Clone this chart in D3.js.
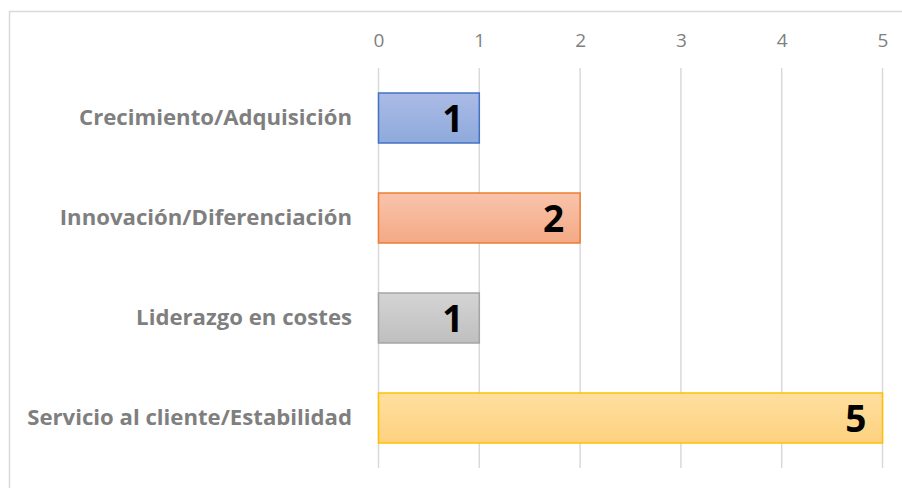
<!DOCTYPE html>
<html>
<head>
<meta charset="utf-8">
<script src="https://cdn.jsdelivr.net/npm/d3@7"></script>
<style>
  body { margin: 0; background: #fff; }
  svg { display: block; }
</style>
</head>
<body>
<svg id="chart"></svg>
<script>
// Data
const categories = ['Crecimiento/Adquisición', 'Innovación/Diferenciación', 'Liderazgo en costes', 'Servicio al cliente/Estabilidad'];
const values = [1, 2, 1, 5];
const tickValues = [0, 1, 2, 3, 4, 5];

// colores tipo Excel: borde + degradado
const strokeColors = ['#4472c4', '#ed7d31', '#a5a5a5', '#ffc000'];
const gradTop = ['#abbbe6', '#f9c4ab', '#d4d4d4', '#ffdf9f'];
const gradBottom = ['#8eaadb', '#f4a985', '#bfbfbf', '#fdd17f'];

const width = 902, height = 488;

const svg = d3.select('#chart')
    .attr('width', width)
    .attr('height', height);

const defs = svg.append('defs');
categories.forEach((c, i) => {
    const g = defs.append('linearGradient')
        .attr('id', 'grad' + i)
        .attr('x1', 0).attr('y1', 0).attr('x2', 0).attr('y2', 1);
    g.append('stop').attr('offset', '0%').attr('stop-color', gradTop[i]);
    g.append('stop').attr('offset', '100%').attr('stop-color', gradBottom[i]);
});

// marco del gráfico
svg.append('rect')
    .attr('x', 9.5).attr('y', 11.5)
    .attr('width', 1000).attr('height', 1000)
    .attr('fill', 'none')
    .attr('stroke', '#d9d9d9')
    .attr('stroke-width', 1.5);

const x = d3.scaleLinear().domain([0, 5]).range([378.5, 882.5]);
const y = d3.scaleBand()
    .domain(categories)
    .range([68, 468])
    .paddingInner(0.5)
    .paddingOuter(0.25);

// gridlines
svg.append('g')
    .selectAll('line')
    .data(tickValues)
    .enter()
    .append('line')
    .attr('x1', d => x(d)).attr('x2', d => x(d))
    .attr('y1', 68).attr('y2', 468)
    .attr('stroke', '#d9d9d9')
    .attr('stroke-width', 1.5);

// eje superior
const axis = svg.append('g')
    .attr('transform', 'translate(0,47)')
    .call(d3.axisTop(x).tickValues(tickValues).tickSize(0).tickPadding(0).tickFormat(d3.format('d')));
axis.select('.domain').remove();
axis.selectAll('text')
    .attr('dy', 0)
    .style('font-family', 'Open Sans, sans-serif')
    .style('font-size', '19px')
    .attr('fill', '#7f7f7f');

// barras
svg.append('g')
    .selectAll('rect')
    .data(values)
    .enter()
    .append('rect')
    .attr('x', x(0))
    .attr('y', (d, i) => y(categories[i]))
    .attr('width', d => x(d) - x(0))
    .attr('height', y.bandwidth())
    .attr('fill', (d, i) => `url(#grad${i})`)
    .attr('stroke', (d, i) => strokeColors[i])
    .attr('stroke-width', 1.5);

// etiquetas de valor
svg.append('g')
    .selectAll('text')
    .data(values)
    .enter()
    .append('text')
    .attr('x', d => x(d) - 16)
    .attr('y', (d, i) => y(categories[i]) + y.bandwidth() / 2 + 14)
    .attr('text-anchor', 'end')
    .style('font-family', 'Open Sans, sans-serif')
    .style('font-weight', 'bold')
    .style('font-size', '37px')
    .attr('fill', '#000')
    .text(d => d);

// etiquetas de categoría
const labels = svg.append('g')
    .selectAll('text')
    .data(categories)
    .enter()
    .append('text')
    .attr('x', 352)
    .attr('y', d => y(d) + y.bandwidth() / 2 + 7)
    .attr('text-anchor', 'end')
    .style('font-family', 'Open Sans, sans-serif')
    .style('font-weight', 'bold')
    .style('font-size', '19px')
    .attr('fill', '#7f7f7f')
    .text(d => d);

// ajustar tamaño para que la etiqueta más larga ocupe ~325px
const longest = d3.max(labels.nodes(), n => n.getComputedTextLength());
const fs = 19 * 325 / longest;
labels.style('font-size', fs + 'px');
</script>
</body>
</html>
